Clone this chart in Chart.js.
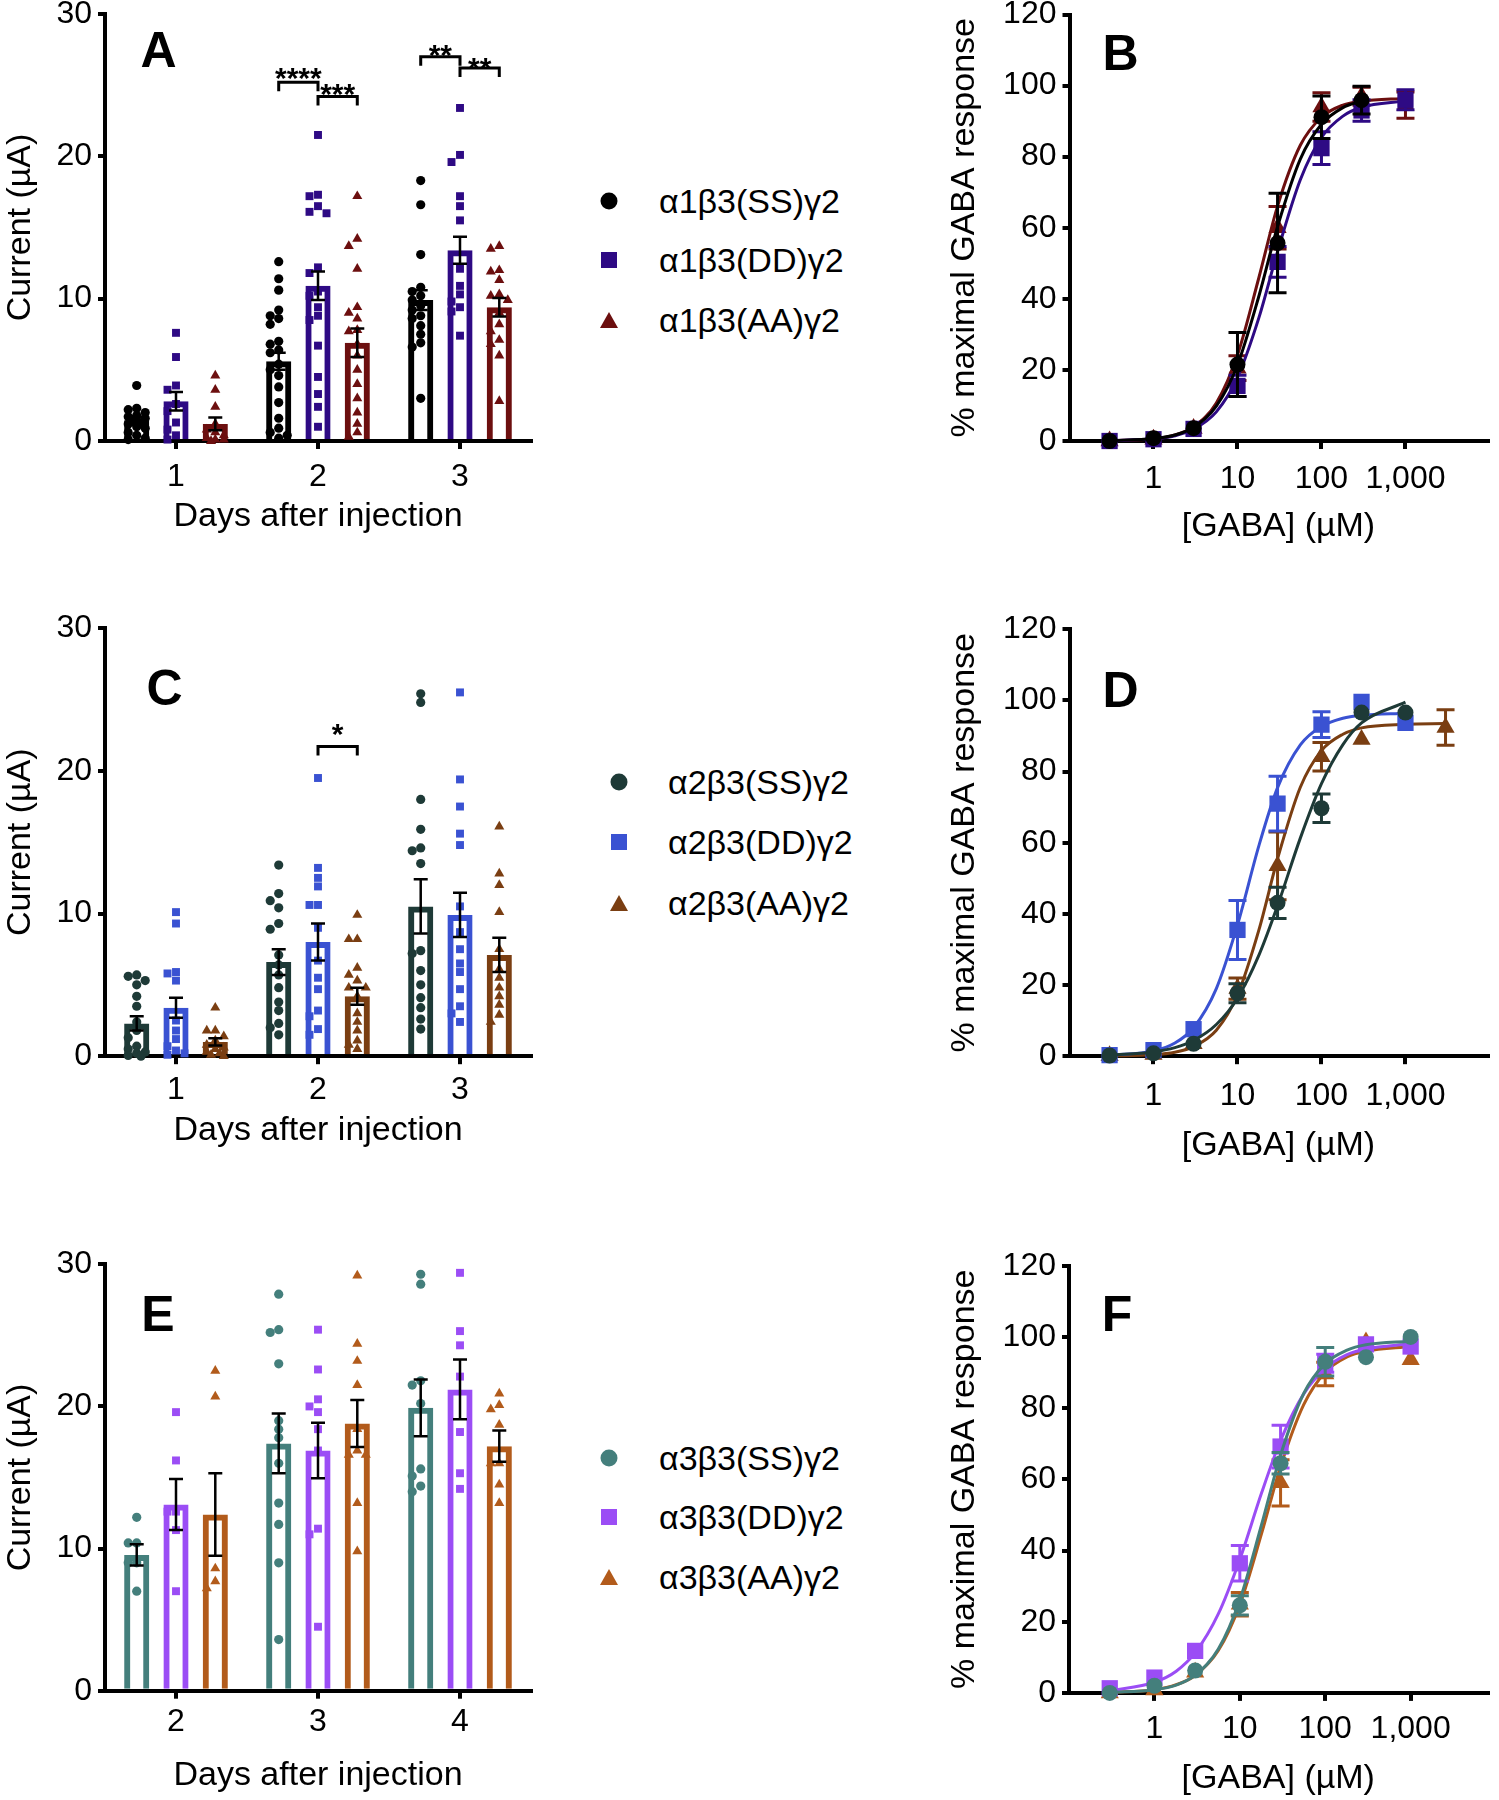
<!DOCTYPE html>
<html>
<head>
<meta charset="utf-8">
<title>GABA-A receptor currents and GABA concentration-response</title>
<script src="https://cdn.jsdelivr.net/npm/chart.js@4.4.1/dist/chart.umd.min.js"></script>
<style>
  html, body { margin: 0; background: #fff; }
  body { position: relative; width: 1499px; height: 1800px; overflow: hidden;
         font-family: 'Liberation Sans', Arial, Helvetica, sans-serif; color: #000; }
  .panel { position: absolute; }
  .letter { position: absolute; font-size: 50px; font-weight: bold; line-height: 1; transform: translate(-50%, -50%); }
  .legtxt { position: absolute; font-size: 34px; line-height: 1; white-space: nowrap; transform: translateY(-50%); }
  .mk { position: absolute; transform: translate(-50%, -50%); }
  .mk.circle { width: 17px; height: 17px; border-radius: 50%; }
  .mk.rect { width: 16px; height: 16px; }
  .mk.triangle { width: 18px; height: 16px; clip-path: polygon(50% 0, 100% 100%, 0 100%); }
</style>
</head>
<body>
<div class="panel" id="pA"><canvas id="chartA"></canvas></div>
<div class="panel" id="pB"><canvas id="chartB"></canvas></div>
<div class="panel" id="pC"><canvas id="chartC"></canvas></div>
<div class="panel" id="pD"><canvas id="chartD"></canvas></div>
<div class="panel" id="pE"><canvas id="chartE"></canvas></div>
<div class="panel" id="pF"><canvas id="chartF"></canvas></div>
<script>
// ---------- data: current amplitudes (µA) ----------
const daysAC = [1, 2, 3];
const daysE = [2, 3, 4];

const namesA = ['α1β3(SS)γ2', 'α1β3(DD)γ2', 'α1β3(AA)γ2'];
const namesC = ['α2β3(SS)γ2', 'α2β3(DD)γ2', 'α2β3(AA)γ2'];
const namesE = ['α3β3(SS)γ2', 'α3β3(DD)γ2', 'α3β3(AA)γ2'];

const colorsA = ['#000000', '#2e0a84', '#6c0f0f'];
const colorsC = ['#1e3a37', '#3a52d2', '#7a3e12'];
const colorsE = ['#447f7c', '#9b4df5', '#b25b1b'];

// bar heights (mean) and SEM, one per day
const meanA_SS = [1.45, 5.6, 9.9];
const meanA_DD = [2.8, 10.9, 13.4];
const meanA_AA = [1.2, 6.9, 9.4];
const semA_SS = [0.25, 0.6, 0.7];
const semA_DD = [0.65, 1.0, 0.95];
const semA_AA = [0.45, 1.0, 0.65];

const meanC_SS = [2.3, 6.6, 10.5];
const meanC_DD = [3.4, 8.0, 9.9];
const meanC_AA = [1.0, 4.2, 7.1];
const semC_SS = [0.5, 0.9, 1.9];
const semC_DD = [0.7, 1.3, 1.55];
const semC_AA = [0.25, 0.6, 1.2];

const meanE_SS = [9.55, 17.4, 19.9];
const meanE_DD = [13.1, 16.9, 21.2];
const meanE_AA = [12.4, 18.8, 17.2];
const semE_SS = [0.75, 2.1, 2.0];
const semE_DD = [1.8, 1.95, 2.1];
const semE_AA = [2.9, 1.65, 1.1];

// individual oocytes, one list per day
const ptsA_SS = [
  [3.9, 2.3, 2.2, 2.0, 1.8, 1.7, 1.6, 1.5, 1.3, 1.2, 1.0, 0.9, 0.6, 0.4, 0.2, 0.1],
  [12.6, 11.4, 10.6, 9.2, 8.8, 8.6, 8.2, 7.0, 6.8, 6.4, 6.2, 5.4, 5.0, 4.6, 3.8, 2.7, 1.6, 0.9, 0.6, 0.4, 0.2],
  [18.3, 16.6, 13.1, 10.8, 10.5, 10.2, 9.9, 9.5, 9.2, 8.8, 8.6, 8.1, 7.5, 6.9, 6.6, 3.0]];
const ptsA_DD = [
  [7.6, 5.9, 3.9, 3.6, 2.6, 2.1, 1.3, 0.8, 0.4, 0.1],
  [21.5, 17.3, 17.2, 16.5, 16.1, 16.0, 12.2, 11.8, 10.5, 10.2, 9.4, 8.8, 8.5, 6.7, 4.5, 3.3, 2.4, 1.0],
  [23.4, 20.1, 19.6, 17.2, 16.5, 15.5, 12.1, 10.9, 10.3, 9.8, 9.4, 9.1, 7.4]];
const ptsA_AA = [
  [4.6, 3.6, 2.4, 1.2, 0.8, 0.6, 0.4, 0.2, 0.1, 0.1, 0.0],
  [17.2, 14.2, 13.7, 12.1, 9.4, 9.0, 8.6, 7.8, 7.7, 6.8, 6.0, 5.0, 4.0, 3.0, 2.0, 1.2, 0.6, 0.3],
  [13.7, 13.5, 12.0, 11.9, 11.3, 10.3, 10.2, 9.9, 9.0, 8.2, 7.7, 7.1, 6.8, 6.0, 2.8]];

const ptsC_SS = [
  [5.7, 5.6, 5.3, 5.0, 4.2, 3.5, 2.4, 1.8, 1.3, 0.7, 0.5, 0.3, 0.2, 0.05, 0.0],
  [13.4, 11.4, 10.9, 10.4, 9.3, 8.9, 7.1, 6.4, 5.7, 4.8, 3.8, 3.2, 2.3, 2.0, 1.5],
  [25.4, 24.8, 18.0, 15.9, 14.6, 14.4, 13.5, 7.4, 7.2, 6.0, 5.0, 4.1, 3.4, 2.6, 1.9]];
const ptsC_DD = [
  [10.1, 9.3, 5.9, 5.8, 5.3, 2.5, 1.8, 1.2, 0.7, 0.4, 0.2, 0.1],
  [19.5, 13.2, 12.5, 11.9, 10.6, 10.6, 9.0, 6.7, 5.5, 4.7, 3.2, 2.8, 1.9, 1.5],
  [25.5, 19.4, 17.5, 15.6, 14.8, 10.5, 8.7, 7.5, 6.5, 5.9, 4.7, 3.5, 3.0, 2.4]];
const ptsC_AA = [
  [3.4, 1.8, 1.8, 1.4, 1.1, 0.8, 0.6, 0.5, 0.3, 0.2, 0.1, 0.0],
  [9.9, 8.2, 8.2, 6.2, 5.7, 5.3, 4.8, 4.8, 4.2, 3.0, 2.4, 1.8, 1.1, 0.8, 0.5],
  [16.1, 12.8, 12.0, 10.1, 7.5, 6.1, 5.5, 4.8, 4.2, 3.6, 2.9, 2.4]];

const ptsE_SS = [
  [12.2, 10.4, 10.4, 9.0, 9.0, 7.0],
  [27.9, 25.4, 25.2, 23.0, 19.0, 18.4, 17.8, 16.0, 13.2, 11.7, 9.0, 3.6],
  [29.3, 28.6, 21.8, 21.5, 20.2, 15.6, 15.1, 14.4, 14.0]];
const ptsE_DD = [
  [19.6, 16.2, 12.6, 12.6, 11.3, 7.0],
  [25.4, 22.6, 20.5, 20.0, 19.6, 18.4, 16.9, 11.4, 11.0, 4.5],
  [29.4, 25.3, 24.3, 22.1, 18.2, 15.3, 14.2]];
const ptsE_AA = [
  [22.5, 20.7, 8.6, 7.7, 7.2],
  [29.2, 24.4, 23.2, 21.5, 18.4, 16.9, 16.6, 16.6, 13.2, 9.8],
  [20.9, 20.1, 19.8, 18.7, 16.0, 16.0, 14.5, 13.2]];

// significance: [day index, from series, to series, bracket value, text value, label]
const sigA = [[1, 0, 1, 25.2, 26.0, '****'], [1, 1, 2, 24.2, 24.9, '***'],
              [2, 0, 1, 27.0, 27.6, '**'], [2, 1, 2, 26.2, 26.7, '**']];
const sigC = [[1, 1, 2, 21.7, 23.1, '*']];

// ---------- data: concentration-response (% of max) ----------
const doseTicks = [1, 10, 100, 1000];
const conc = [0.3, 1, 3, 10, 30, 100, 300, 1000];
const concB_SS = [0.3, 1, 3, 10, 30, 100, 300];
const concD_AA = [0.3, 1, 3, 10, 30, 100, 300, 3000];

const respB_SS = [0, 0.8, 3.6, 21.5, 55.7, 91.1, 95.9];
const respB_DD = [0, 0.5, 3.4, 15.5, 50.4, 82.4, 93, 96];
const respB_AA = [0, 0.5, 3.5, 20.5, 60, 94, 97, 94.5];
const semB_SS = [0, 0, 0.5, 9, 14, 6, 3.9];
const semB_DD = [0, 0, 0.5, 3, 4.3, 4.6, 3, 2.8];
const semB_AA = [0, 0, 0.5, 3.5, 6, 4, 2.5, 3.7];

const respD_SS = [0.2, 0.8, 3.5, 17.7, 43.1, 69.7, 96.6, 96.6];
const respD_DD = [0.3, 1.7, 7.6, 35.5, 71, 93.2, 99.6, 93.7];
const respD_AA = [0.1, 0.5, 3.5, 19, 53.5, 84.2, 89, 92.4];
const semD_SS = [0, 0, 0.5, 2.7, 4.4, 4, 1, 1];
const semD_DD = [0, 0, 0.5, 8.3, 7.7, 3.6, 1.5, 1.5];
const semD_AA = [0, 0, 0.5, 3, 9.5, 4, 1.5, 5];

const respF_SS = [0, 2.0, 6.3, 24.6, 64.5, 93, 94.3, 100];
const respF_DD = [1.3, 4.3, 11.8, 36.4, 69.2, 92.6, 97.9, 97.3];
const respF_AA = [0, 0.8, 5.8, 24.9, 59, 89.6, 98.6, 93.6];
const semF_SS = [0, 0, 0.5, 2.7, 3, 4, 1, 1];
const semF_DD = [0.3, 0.5, 1, 5, 6, 2.5, 1.5, 1.5];
const semF_AA = [0, 0, 0.5, 3.3, 6.5, 3.3, 2, 2];

// fitted curves
const fitConc = [0.3, 1, 1.8, 3, 5.6, 10, 18, 30, 56, 100, 180, 300, 1000, 3000];
const fitB_SS = [0.1, 0.7, 1.7, 3.9, 9.8, 21.4, 40.8, 60.3, 79.3, 89.1, 93.8, 95.6];
const fitB_DD = [0.1, 0.6, 1.5, 3.3, 8.2, 17.9, 34.7, 53.3, 73.5, 85.4, 91.4, 93.9, 95.7];
const fitB_AA = [0.1, 0.6, 1.7, 4.0, 10.7, 24.2, 46.0, 66.1, 83.2, 91.1, 94.5, 95.6, 96.4];
const fitD_SS = [0.3, 1.2, 2.4, 4.4, 8.9, 16.3, 28.4, 42.3, 61.3, 76.6, 87.6, 93.7, 99.5];
const fitD_DD = [0.2, 1.5, 3.7, 8.0, 19.0, 36.9, 59.2, 75.5, 87.5, 92.7, 95.0, 95.8, 96.4];
const fitD_AA = [0.1, 0.4, 1.1, 2.7, 7.3, 17.2, 35.5, 55.5, 75.6, 85.9, 90.5, 92.3, 93.3, 93.5];
const fitF_SS = [0.1, 0.9, 2.2, 5.0, 12.3, 26.1, 47.3, 66.8, 84.1, 92.5, 96.3, 97.8, 98.8];
const fitF_DD = [0.6, 3.0, 6.1, 11.3, 22.2, 37.5, 56.2, 70.9, 84.0, 91.1, 95.0, 96.6, 98.1];
const fitF_AA = [0.1, 0.9, 2.3, 4.9, 11.9, 24.8, 44.8, 63.6, 81.0, 90.1, 94.4, 96.0, 97.3];

// ---------- layout ----------
const FONT = "'Liberation Sans', Arial, Helvetica, sans-serif";
Chart.defaults.font.family = FONT;
Chart.defaults.color = '#000';
Chart.defaults.animation = false;
Chart.defaults.plugins.legend.display = false;
Chart.defaults.plugins.tooltip.enabled = false;

const geo = {
  A: { left: 0, top: 0, w: 545, h: 560, padTop: 14, padRight: 14, yW: 105, xH: 119, tickPad: 9, titlePad: 23 },
  C: { left: 0, top: 610, w: 545, h: 565, padTop: 18.2, padRight: 14, yW: 105, xH: 118.8, tickPad: 7, titlePad: 24 },
  E: { left: 0, top: 1240, w: 545, h: 560, padTop: 24.3, padRight: 14, yW: 105, xH: 109.3, tickPad: 4.5, titlePad: 3.6 },
  B: { left: 940, top: 0, w: 559, h: 560, padTop: 14.5, padRight: 4, yW: 129.5, xH: 119, tickPad: 10.8, titlePad: 13 },
  D: { left: 940, top: 610, w: 559, h: 565, padTop: 19.3, padRight: 4, yW: 129.5, xH: 118.8, tickPad: 12.5, titlePad: 9.3 },
  F: { left: 940, top: 1240, w: 559, h: 560, padTop: 25.7, padRight: 0, yW: 129, xH: 107.1, tickPad: 8.9, titlePad: 0.6 }
};

function place(id, g) {
  const el = document.getElementById(id);
  el.style.left = g.left + 'px';
  el.style.top = g.top + 'px';
  el.style.width = g.w + 'px';
  el.style.height = g.h + 'px';
}

function yAxis(g, max, step, title, titleTop) {
  return {
    min: 0, max: max,
    ticks: { stepSize: step, font: { size: 32 }, padding: 6, color: '#000' },
    grid: { drawOnChartArea: false, drawTicks: true, tickLength: 7, lineWidth: 4, color: '#000' },
    border: { display: true, color: '#000', width: 4 },
    title: { display: true, text: title, font: { size: 34 }, color: '#000', padding: { top: titleTop, bottom: 0 } },
    afterFit: s => { s.width = g.yW; s.paddingTop = 0; s.paddingBottom = 0; }
  };
}

function xAxis(g, title, fmt) {
  return {
    offset: false,
    ticks: { font: { size: 32 }, padding: g.tickPad, color: '#000', autoSkip: false, maxRotation: 0, minRotation: 0, callback: fmt },
    grid: { offset: false, drawOnChartArea: false, drawTicks: true, tickLength: 8, lineWidth: 4, color: '#000' },
    border: { display: true, color: '#000', width: 4 },
    title: { display: true, text: title, font: { size: 34 }, color: '#000', padding: { top: 0, bottom: g.titlePad } },
    afterFit: s => { s.height = g.xH; s.paddingLeft = 0; s.paddingRight = 0; }
  };
}

// spreads dots of one column sideways so they do not sit on top of each other
function swarm(vals, cx, pxX, pxY) {
  const d = 8.5, cand = [0, -1, 1, -0.5, 0.5];
  const placed = [];
  return vals.slice().sort((a, b) => b - a).map(v => {
    const py = v * pxY;
    let best = 0, bestGap = -1;
    for (const c of cand) {
      let gap = Infinity;
      for (const p of placed) gap = Math.min(gap, Math.hypot(p[0] - c * d, p[1] - py));
      if (gap >= d) { best = c; break; }
      if (gap > bestGap) { bestGap = gap; best = c; }
    }
    placed.push([best * d, py]);
    return { x: cx + best * d / pxX, y: v };
  });
}

// SEM whiskers: black on bars, coloured on dose-response points
const errorBars = {
  id: 'errorBars',
  beforeDatasetDraw(chart, args) {
    const ds = chart.data.datasets[args.index];
    if (!ds.pointSem) return;
    const ctx = chart.ctx, ys = chart.scales.y;
    const pxPerUnit = ys.height / (ys.max - ys.min);
    ctx.save();
    ctx.strokeStyle = ds.pointBackgroundColor;
    ctx.lineWidth = 3;
    args.meta.data.forEach((pt, j) => {
      const s = ds.pointSem[j];
      if (s * pxPerUnit < 8) return;
      const v = ds.data[j].y;
      const yt = ys.getPixelForValue(v + s), yb = ys.getPixelForValue(v - s);
      ctx.beginPath();
      ctx.moveTo(pt.x, yt); ctx.lineTo(pt.x, yb);
      ctx.moveTo(pt.x - 9, yt); ctx.lineTo(pt.x + 9, yt);
      ctx.moveTo(pt.x - 9, yb); ctx.lineTo(pt.x + 9, yb);
      ctx.stroke();
    });
    ctx.restore();
  },
  afterDatasetsDraw(chart) {
    const ctx = chart.ctx, ys = chart.scales.y;
    chart.data.datasets.forEach((ds, i) => {
      if (!ds.barSem) return;
      const meta = chart.getDatasetMeta(i);
      ctx.save();
      ctx.strokeStyle = '#000';
      ctx.lineWidth = 2.5;
      meta.data.forEach((bar, j) => {
        const m = ds.data[j].y, s = ds.barSem[j];
        const yt = ys.getPixelForValue(m + s), yb = ys.getPixelForValue(m - s);
        ctx.beginPath();
        ctx.moveTo(bar.x, yt); ctx.lineTo(bar.x, yb);
        ctx.moveTo(bar.x - 7, yt); ctx.lineTo(bar.x + 7, yt);
        ctx.moveTo(bar.x - 7, yb); ctx.lineTo(bar.x + 7, yb);
        ctx.stroke();
      });
      ctx.restore();
    });
  }
};

function makeBrackets(items) {
  return {
    id: 'brackets',
    afterDatasetsDraw(chart) {
      const ctx = chart.ctx, ys = chart.scales.y;
      ctx.save();
      ctx.strokeStyle = '#000';
      ctx.fillStyle = '#000';
      ctx.lineWidth = 3;
      ctx.font = 'bold 30px ' + FONT;
      ctx.textAlign = 'center';
      ctx.textBaseline = 'alphabetic';
      items.forEach(([day, a, b, lineY, textY, label]) => {
        const x1 = chart.getDatasetMeta(a).data[day].x;
        const x2 = chart.getDatasetMeta(b).data[day].x;
        const y = ys.getPixelForValue(lineY);
        ctx.beginPath();
        ctx.moveTo(x1, y + 9); ctx.lineTo(x1, y); ctx.lineTo(x2, y); ctx.lineTo(x2, y + 9);
        ctx.stroke();
        ctx.fillText(label, (x1 + x2) / 2, ys.getPixelForValue(textY) + 0.575 * 30);
      });
      ctx.restore();
    }
  };
}

const shapes = ['circle', 'rect', 'triangle'];

function barPanel(canvasId, g, days, means, sems, pts, colors, sig) {
  const catPct = 0.83, chunk = catPct / 3;
  const pxPerDay = (g.w - g.padRight - g.yW) / 3;
  const pxPerY = (g.h - g.xH - g.padTop) / 30;
  const radii = [4.6, 5.6, 5.8];
  const datasets = [];
  means.forEach((m, k) => datasets.push({
    type: 'bar',
    data: days.map((d, i) => ({ x: d, y: m[i] })),
    barSem: sems[k],
    borderColor: colors[k],
    backgroundColor: 'rgba(255,255,255,0)',
    borderWidth: 6,
    categoryPercentage: catPct,
    barPercentage: 0.64,
    order: 2
  }));
  pts.forEach((ser, k) => {
    const data = [];
    ser.forEach((vals, i) => swarm(vals, days[i] + (k - 1) * chunk, pxPerDay, pxPerY).forEach(p => data.push(p)));
    datasets.push({
      type: 'scatter', data: data,
      pointStyle: shapes[k], pointRadius: radii[k],
      pointBackgroundColor: colors[k], pointBorderColor: colors[k], pointBorderWidth: 0,
      order: 1, clip: false
    });
  });
  const x = xAxis(g, 'Days after injection', v => String(v));
  x.type = 'linear';
  x.min = days[0] - 0.5;
  x.max = days[days.length - 1] + 0.5;
  x.afterBuildTicks = s => { s.ticks = days.map(v => ({ value: v })); };
  new Chart(document.getElementById(canvasId), {
    type: 'bar',
    data: { datasets: datasets },
    options: {
      responsive: true, maintainAspectRatio: false, devicePixelRatio: 1,
      layout: { padding: { top: g.padTop, right: g.padRight, bottom: 0, left: 0 } },
      scales: { x: x, y: yAxis(g, 30, 10, 'Current (µA)', 0) }
    },
    plugins: [errorBars, makeBrackets(sig)]
  });
}

function dosePanel(canvasId, g, xmax, series) {
  const radii = [8, 11.5, 10.5];
  const datasets = [];
  series.forEach((s, k) => {
    datasets.push({
      type: 'scatter',
      data: s.conc.map((c, i) => ({ x: c, y: s.resp[i] })),
      pointSem: s.sem,
      pointStyle: shapes[k], pointRadius: radii[k],
      pointBackgroundColor: s.color, pointBorderColor: s.color, pointBorderWidth: 0,
      order: 2 * k + 1, clip: false
    });
    datasets.push({
      type: 'line',
      data: s.fit.map((v, i) => ({ x: fitConc[i], y: v })),
      borderColor: s.color, borderWidth: 3, pointRadius: 0, fill: false,
      cubicInterpolationMode: 'monotone', order: 2 * k + 2, clip: false
    });
  });
  const x = xAxis(g, '[GABA] (µM)', v => Number(v).toLocaleString('en-US'));
  x.type = 'logarithmic';
  x.min = 0.1;
  x.max = xmax;
  x.afterBuildTicks = s => { s.ticks = doseTicks.map(v => ({ value: v })); };
  new Chart(document.getElementById(canvasId), {
    type: 'scatter',
    data: { datasets: datasets },
    options: {
      responsive: true, maintainAspectRatio: false, devicePixelRatio: 1,
      layout: { padding: { top: g.padTop, right: g.padRight, bottom: 0, left: 0 } },
      scales: { x: x, y: yAxis(g, 120, 20, '% maximal GABA response', 4.6) }
    },
    plugins: [errorBars]
  });
}

function legend(names, colors, mx, tx, rows) {
  names.forEach((n, k) => {
    const m = document.createElement('div');
    m.className = 'mk ' + shapes[k];
    m.style.left = mx + 'px';
    m.style.top = rows[k] + 'px';
    m.style.background = colors[k];
    document.body.appendChild(m);
    const t = document.createElement('div');
    t.className = 'legtxt';
    t.textContent = n;
    t.style.left = tx + 'px';
    t.style.top = rows[k] + 'px';
    document.body.appendChild(t);
  });
}

function letter(txt, x, y) {
  const el = document.createElement('div');
  el.className = 'letter';
  el.textContent = txt;
  el.style.left = x + 'px';
  el.style.top = y + 'px';
  document.body.appendChild(el);
}

['A', 'B', 'C', 'D', 'E', 'F'].forEach(k => place('p' + k, geo[k]));

barPanel('chartA', geo.A, daysAC, [meanA_SS, meanA_DD, meanA_AA], [semA_SS, semA_DD, semA_AA],
  [ptsA_SS, ptsA_DD, ptsA_AA], colorsA, sigA);
barPanel('chartC', geo.C, daysAC, [meanC_SS, meanC_DD, meanC_AA], [semC_SS, semC_DD, semC_AA],
  [ptsC_SS, ptsC_DD, ptsC_AA], colorsC, sigC);
barPanel('chartE', geo.E, daysE, [meanE_SS, meanE_DD, meanE_AA], [semE_SS, semE_DD, semE_AA],
  [ptsE_SS, ptsE_DD, ptsE_AA], colorsE, []);

dosePanel('chartB', geo.B, 9480, [
  { conc: concB_SS, resp: respB_SS, sem: semB_SS, fit: fitB_SS, color: colorsA[0] },
  { conc: conc, resp: respB_DD, sem: semB_DD, fit: fitB_DD, color: colorsA[1] },
  { conc: conc, resp: respB_AA, sem: semB_AA, fit: fitB_AA, color: colorsA[2] }]);
dosePanel('chartD', geo.D, 9480, [
  { conc: conc, resp: respD_SS, sem: semD_SS, fit: fitD_SS, color: colorsC[0] },
  { conc: conc, resp: respD_DD, sem: semD_DD, fit: fitD_DD, color: colorsC[1] },
  { conc: concD_AA, resp: respD_AA, sem: semD_AA, fit: fitD_AA, color: colorsC[2] }]);
dosePanel('chartF', geo.F, 7943, [
  { conc: conc, resp: respF_SS, sem: semF_SS, fit: fitF_SS, color: colorsE[0] },
  { conc: conc, resp: respF_DD, sem: semF_DD, fit: fitF_DD, color: colorsE[1] },
  { conc: conc, resp: respF_AA, sem: semF_AA, fit: fitF_AA, color: colorsE[2] }]);

legend(namesA, colorsA, 609, 659, [201, 260, 320]);
legend(namesC, colorsC, 619, 668, [782, 842, 903]);
legend(namesE, colorsE, 609, 659, [1458, 1517, 1577]);

letter('A', 158.5, 50);
letter('B', 1120.5, 52.5);
letter('C', 164.5, 688);
letter('D', 1120.5, 690);
letter('E', 158, 1314);
letter('F', 1117, 1314);
</script>
</body>
</html>
